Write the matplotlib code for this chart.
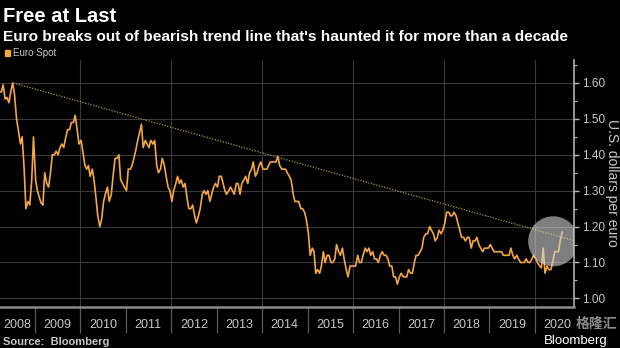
import matplotlib
matplotlib.use("Agg")
import matplotlib.pyplot as plt
import numpy as np
import pandas as pd

# ---------------- data (semi-monthly readings, EUR/USD) ----------------
start_month = "2008-03"
euro_spot = [
    # 2008 (Mar 2nd half ..)
    1.575,
    1.575, 1.595, 1.555, 1.560, 1.545, 1.575, 1.600, 1.570, 1.500, 1.470,
    1.430, 1.450, 1.360, 1.250, 1.270, 1.260, 1.330, 1.450,
    # 2009
    1.330, 1.300, 1.280, 1.265, 1.260, 1.350, 1.320, 1.310, 1.350, 1.400,
    1.400, 1.410, 1.400, 1.420, 1.430, 1.420, 1.450, 1.470, 1.470, 1.490,
    1.490, 1.510, 1.470, 1.430,
    # 2010
    1.440, 1.410, 1.370, 1.360, 1.370, 1.340, 1.360, 1.330, 1.280, 1.230,
    1.200, 1.220, 1.270, 1.290, 1.310, 1.270, 1.290, 1.340, 1.390, 1.390,
    1.400, 1.330, 1.320, 1.310,
    # 2011
    1.300, 1.360, 1.360, 1.370, 1.390, 1.410, 1.440, 1.460, 1.485, 1.420,
    1.440, 1.430, 1.420, 1.440, 1.430, 1.440, 1.370, 1.350, 1.360, 1.390,
    1.370, 1.340, 1.310, 1.300,
    # 2012
    1.270, 1.300, 1.320, 1.340, 1.320, 1.330, 1.310, 1.320, 1.280, 1.250,
    1.250, 1.260, 1.230, 1.210, 1.230, 1.250, 1.290, 1.300, 1.290, 1.300,
    1.270, 1.290, 1.310, 1.320,
    # 2013
    1.310, 1.340, 1.340, 1.320, 1.300, 1.290, 1.300, 1.310, 1.300, 1.290,
    1.320, 1.320, 1.290, 1.320, 1.330, 1.340, 1.320, 1.350, 1.360, 1.380,
    1.340, 1.350, 1.370, 1.380,
    # 2014
    1.360, 1.360, 1.360, 1.370, 1.380, 1.380, 1.380, 1.380, 1.395, 1.370,
    1.360, 1.360, 1.360, 1.350, 1.340, 1.330, 1.290, 1.270, 1.270, 1.270,
    1.250, 1.250, 1.240, 1.220,
    # 2015
    1.180, 1.120, 1.140, 1.130, 1.070, 1.080, 1.070, 1.090, 1.130, 1.100,
    1.120, 1.120, 1.100, 1.100, 1.110, 1.150, 1.130, 1.120, 1.140, 1.110,
    1.080, 1.060, 1.090, 1.090,
    # 2016
    1.090, 1.090, 1.120, 1.100, 1.100, 1.120, 1.140, 1.130, 1.140, 1.120,
    1.130, 1.110, 1.110, 1.100, 1.120, 1.130, 1.120, 1.120, 1.110, 1.090,
    1.090, 1.060, 1.060, 1.040,
    # 2017
    1.060, 1.070, 1.060, 1.060, 1.060, 1.080, 1.070, 1.070, 1.100, 1.120,
    1.120, 1.130, 1.140, 1.170, 1.180, 1.180, 1.200, 1.190, 1.180, 1.160,
    1.170, 1.190, 1.180, 1.190,
    # 2018
    1.210, 1.240, 1.240, 1.230, 1.230, 1.240, 1.230, 1.210, 1.190, 1.170,
    1.170, 1.160, 1.170, 1.170, 1.140, 1.160, 1.160, 1.170, 1.150, 1.140,
    1.130, 1.140, 1.140, 1.140,
    # 2019
    1.150, 1.140, 1.130, 1.130, 1.130, 1.130, 1.130, 1.120, 1.120, 1.120,
    1.120, 1.140, 1.120, 1.110, 1.120, 1.110, 1.100, 1.100, 1.100, 1.110,
    1.100, 1.100, 1.110, 1.120,
    # 2020
    1.110, 1.100, 1.090, 1.085, 1.140, 1.070, 1.090, 1.080, 1.080, 1.100,
    1.130, 1.130, 1.130, 1.160, 1.185,
]

trend_dates = ["2008-07-15", "2020-11-10"]
trend_values = [1.600, 1.161]

highlight_date = ["2020-05-27"]
highlight_value = [1.159]

y_ticks = [1.00, 1.10, 1.20, 1.30, 1.40, 1.50, 1.60]
year_labels = list(range(2008, 2021))

title = "Free at Last"
subtitle = "Euro breaks out of bearish trend line that's haunted it for more than a decade"
series_name = "Euro Spot"
y_label = "U.S. dollars per euro"
source = "Source:  Bloomberg"

# ---------------- figure ----------------
W, H = 620, 348
BG = "black"
LINE = "#f4a742"
GRID = "#3a3a3a"
TXT = "#c8c8c8"

plt.rcParams['font.family'] = ['Liberation Sans', 'DejaVu Sans']

fig = plt.figure(figsize=(W / 100, H / 100), dpi=100, facecolor=BG)
ax_top, ax_bot = 60, 307
ax = fig.add_axes([0, 1 - ax_bot / H, 574 / W, (ax_bot - ax_top) / H])
ax.set_facecolor(BG)

# semi-monthly dates: 8th and 22nd of each month
months = pd.period_range(start_month, periods=(len(euro_spot) + 1) // 2 + 1, freq="M")
dates = []
for m in months:
    dates.append(m.to_timestamp() + pd.Timedelta(days=7))
    dates.append(m.to_timestamp() + pd.Timedelta(days=21))
dates = dates[1:len(euro_spot) + 1]  # first reading is second half of March

ax.plot(pd.to_datetime(dates), euro_spot, color=LINE, lw=1.2, zorder=3)
ax.plot(pd.to_datetime(trend_dates), trend_values, color="#a49c3a", lw=0.9,
        ls=(0, (1, 1.2)), zorder=4)
ax.scatter(pd.to_datetime(highlight_date), highlight_value, s=1300, color="#d4d4d4",
           alpha=0.6, edgecolors="none", zorder=5)

ax.set_xlim(pd.Timestamp("2008-03-28"), pd.Timestamp("2020-11-10"))
ax.set_ylim(0.976, 1.664)

# grid
for yv in y_ticks:
    ax.axhline(yv, color=GRID, lw=0.8, zorder=1)
for yr in range(2010, 2021, 2):
    ax.axvline(pd.Timestamp(f"{yr}-01-01"), color=GRID, lw=0.8, zorder=1)

# y axis on right
ax.yaxis.tick_right()
ax.set_yticks(y_ticks)
ax.set_yticklabels([f"{v:.2f}" for v in y_ticks])
ax.set_yticks(np.arange(1.05, 1.66, 0.1), minor=True)
ax.tick_params(axis="y", which="major", length=3.5, width=1, color="#bbbbbb",
               labelcolor=TXT, labelsize=8.5, pad=2)
ax.tick_params(axis="y", which="minor", length=2, width=0.8, color="#bbbbbb")
fig.text(612 / W, 1 - 183 / H, y_label, rotation=270, color=TXT, fontsize=10,
         ha="center", va="center")

# x axis: dividers at year boundaries, labels mid-year (2008 nudged inside)
label_pos = [pd.Timestamp("2008-08-12")] + [pd.Timestamp(f"{y}-07-02") for y in year_labels[1:]]
ax.set_xticks([pd.Timestamp(f"{y}-01-01") for y in range(2009, 2021)])
ax.set_xticklabels([])
ax.set_xticks(label_pos, minor=True)
ax.set_xticklabels([str(y) for y in year_labels], minor=True)
ax.tick_params(axis="x", which="major", length=19, width=0.9, color="#5a5a5a")
ax.tick_params(axis="x", which="minor", length=0, labelcolor=TXT, labelsize=9, pad=9)

for s in ["top", "left"]:
    ax.spines[s].set_visible(False)
ax.spines["bottom"].set_color("#8a8a8a")
ax.spines["bottom"].set_linewidth(1.8)
ax.spines["right"].set_color("#b0b0b0")
ax.spines["right"].set_linewidth(1.2)

# titles
fig.text(3 / W, 1 - 22 / H, title, color="white", fontsize=14.5, fontweight="bold",
         va="baseline", ha="left")
fig.text(3 / W, 1 - 41 / H, subtitle, color="white", fontsize=11.1, fontweight="bold",
         va="baseline", ha="left")
# legend
fig.patches.append(plt.Rectangle((5 / W, 1 - 56 / H), 5 / W, 6 / H, transform=fig.transFigure,
                                 color=LINE, figure=fig))
fig.text(13 / W, 1 - 53 / H, series_name, color=TXT, fontsize=7, va="center", ha="left")
# source
fig.text(3 / W, 1 - 342 / H, source, color=TXT, fontsize=8, fontweight="bold",
         va="center", ha="left")
# watermarks
fig.text(617 / W, 1 - 324 / H, "格隆汇", color="white", alpha=0.55, fontsize=10,
         fontweight="bold", va="center", ha="right", family=["Noto Sans CJK SC", "DejaVu Sans"])
fig.text(608 / W, 1 - 341 / H, "Bloomberg", color="white", fontsize=9.5,
         va="center", ha="right")

fig.savefig("out.png", dpi=100, facecolor=BG)
